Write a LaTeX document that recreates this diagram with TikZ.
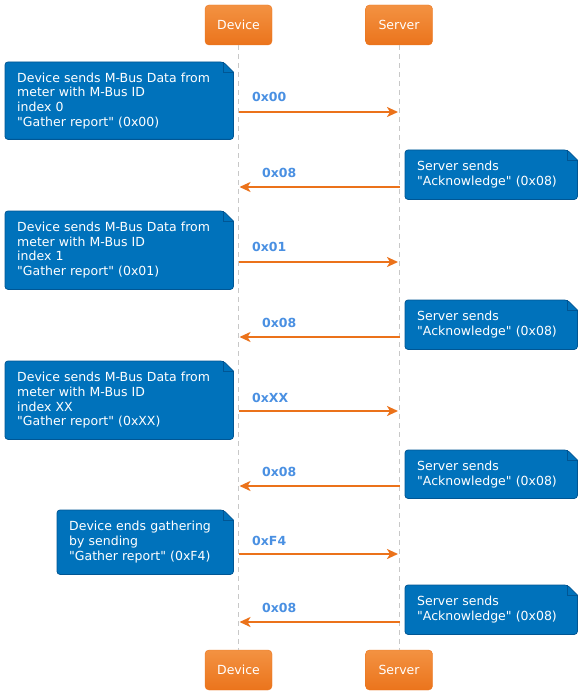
\documentclass[tikz,border=0pt]{standalone}
\usepackage{fontspec}
\setmainfont{DejaVu Sans}[Ligatures=TeXOff]
\usetikzlibrary{arrows.meta,backgrounds}

\definecolor{notefill}{RGB}{0,114,187}
\definecolor{noteline}{RGB}{0,86,148}
\definecolor{msgorange}{RGB}{235,114,26}
\definecolor{labelblue}{RGB}{74,144,226}
\definecolor{actortop}{RGB}{243,146,66}
\definecolor{actorbot}{RGB}{235,116,28}
\definecolor{lifegray}{RGB}{200,200,200}

% nota con esquina doblada, detras del nodo #1
\newcommand{\notebg}[1]{%
  \begin{pgfonlayer}{background}
    \path[fill=notefill,draw=noteline,line width=0.8pt,rounded corners=3pt]
      (#1.south west) -- (#1.north west) -- ([xshift=-10pt]#1.north east)
      [sharp corners] -- ([yshift=-10pt]#1.north east) [rounded corners=3pt] -- (#1.south east) -- cycle;
    \draw[noteline,line width=0.6pt] ([xshift=-10pt]#1.north east) |- ([yshift=-10pt]#1.north east);
  \end{pgfonlayer}}

\begin{document}
\begin{tikzpicture}[x=1pt,y=-1pt,
  actor/.style={rounded corners=4pt,top color=actortop,bottom color=actorbot,draw=actorbot,
    text=white,minimum width=67pt,minimum height=40pt,inner sep=0pt,font=\fontsize{12.5}{15}\selectfont},
  lifeline/.style={lifegray,line width=0.8pt,dash pattern=on 5pt off 4pt},
  notebox/.style={anchor=north west,text=white,align=left,inner xsep=12pt,inner ysep=0pt,
    text width=148pt,font=\fontsize{12.5}{14.7}\selectfont},
  msg/.style={msgorange,line width=2.6pt,-{Stealth[length=11pt,width=10pt,inset=3pt]}},
  lbl/.style={text=labelblue,inner sep=0pt,font=\bfseries\fontsize{12.5}{15}\selectfont}]
  \useasboundingbox (0,0) rectangle (582,695);

  % participantes
  \node[actor] (devtop) at (238.5,25) {Device};
  \node[actor] (srvtop) at (399,25) {Server};
  \node[actor] (devbot) at (238.5,670) {Device};
  \node[actor] (srvbot) at (399,670) {Server};
  \draw[lifeline] (devtop) -- (devbot);
  \draw[lifeline] (srvtop) -- (srvbot);

  % notas
  \node[notebox,text width=204pt,minimum height=77pt] (n1) at (5,62)
    {Device sends M-Bus Data from\\meter with M-Bus ID\\index 0\\"Gather report" (0x00)};
  \node[notebox,minimum height=49pt] (n2) at (405,150) {Server sends\\"Acknowledge" (0x08)};
  \node[notebox,text width=204pt,minimum height=78pt] (n3) at (5,211)
    {Device sends M-Bus Data from\\meter with M-Bus ID\\index 1\\"Gather report" (0x01)};
  \node[notebox,minimum height=49pt] (n4) at (405,300) {Server sends\\"Acknowledge" (0x08)};
  \node[notebox,text width=204pt,minimum height=78pt] (n5) at (5,361)
    {Device sends M-Bus Data from\\meter with M-Bus ID\\index XX\\"Gather report" (0xXX)};
  \node[notebox,minimum height=48pt] (n6) at (405,450) {Server sends\\"Acknowledge" (0x08)};
  \node[notebox,text width=152pt,minimum height=64pt] (n7) at (57,510)
    {Device ends gathering\\by sending\\"Gather report" (0xF4)};
  \node[notebox,minimum height=49pt] (n8) at (405,585) {Server sends\\"Acknowledge" (0x08)};
  \notebg{n1}\notebg{n2}\notebg{n3}\notebg{n4}\notebg{n5}\notebg{n6}\notebg{n7}\notebg{n8}

  % mensajes
  \coordinate (d1) at (238.5,112); \coordinate (s1) at (398,112);
  \coordinate (s2) at (400,187);   \coordinate (d2) at (239.5,187);
  \coordinate (d3) at (238.5,262); \coordinate (s3) at (398,262);
  \coordinate (s4) at (400,337);   \coordinate (d4) at (239.5,337);
  \coordinate (d5) at (238.5,411); \coordinate (s5) at (398,411);
  \coordinate (s6) at (400,486);   \coordinate (d6) at (239.5,486);
  \coordinate (d7) at (238.5,554); \coordinate (s7) at (398,554);
  \coordinate (s8) at (400,622);   \coordinate (d8) at (239.5,622);
  \draw[msg] (d1) -- (s1); \node[lbl,anchor=base west] (m1) at (252,102) {0x00};
  \draw[msg] (s2) -- (d2); \node[lbl,anchor=base west] (m2) at (262,177) {0x08};
  \draw[msg] (d3) -- (s3); \node[lbl,anchor=base west] (m3) at (252,251) {0x01};
  \draw[msg] (s4) -- (d4); \node[lbl,anchor=base west] (m4) at (262,327) {0x08};
  \draw[msg] (d5) -- (s5); \node[lbl,anchor=base west] (m5) at (252,402) {0xXX};
  \draw[msg] (s6) -- (d6); \node[lbl,anchor=base west] (m6) at (262,476) {0x08};
  \draw[msg] (d7) -- (s7); \node[lbl,anchor=base west] (m7) at (252,545) {0xF4};
  \draw[msg] (s8) -- (d8); \node[lbl,anchor=base west] (m8) at (262,612) {0x08};
\end{tikzpicture}
\end{document}
